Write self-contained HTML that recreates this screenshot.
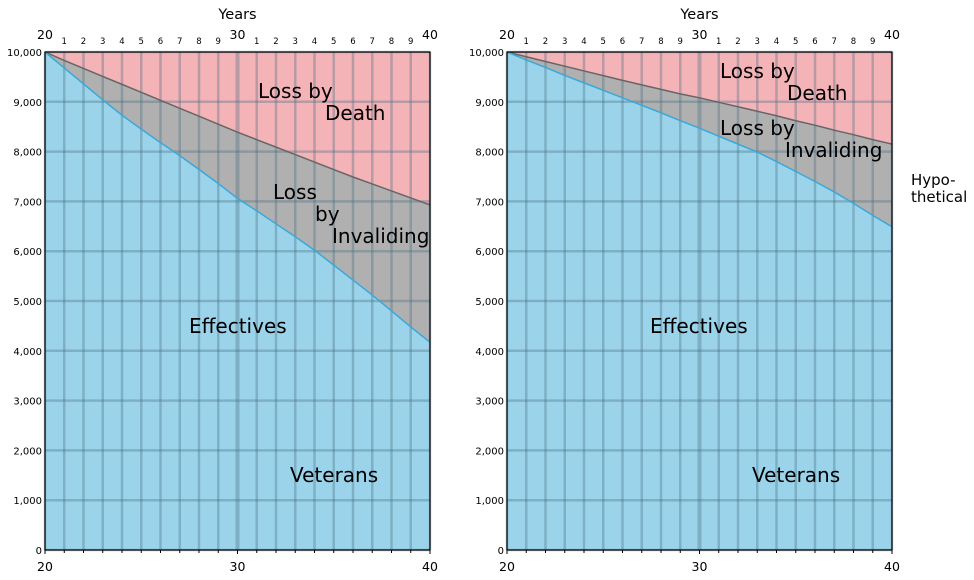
<!DOCTYPE html>
<html><head><meta charset="utf-8">
<style>
html,body{margin:0;padding:0;background:#fff;}
svg{display:block;font-family:"DejaVu Sans","Liberation Sans",sans-serif;}
</style></head>
<body>
<svg id="c" width="974" height="580"></svg>
<script>
const years = [20,21,22,23,24,25,26,27,28,29,30,31,32,33,34,35,36,37,38,39,40];
const leftDeath = [10000,9830,9670,9510,9350,9190,9030,8870,8710,8550,8390,8240,8090,7940,7790,7640,7490,7350,7210,7070,6930];
const leftEffective = [10000,9680,9360,9040,8730,8450,8180,7920,7640,7360,7060,6810,6550,6290,6020,5720,5420,5120,4800,4480,4170];
const rightDeath = [10000,9905,9810,9715,9620,9525,9430,9340,9250,9160,9080,8990,8900,8810,8720,8620,8530,8430,8340,8240,8150];
const rightEffective = [10000,9840,9690,9530,9380,9230,9080,8930,8780,8620,8470,8310,8150,7990,7800,7600,7400,7190,6960,6720,6490];
const yTicks = [0,1000,2000,3000,4000,5000,6000,7000,8000,9000,10000];
const yTickLabels = ["0","1,000","2,000","3,000","4,000","5,000","6,000","7,000","8,000","9,000","10,000"];
const topMinorLabels = ["1","2","3","4","5","6","7","8","9"];

const NS="http://www.w3.org/2000/svg";
const svg=document.getElementById('c');
function mk(tag,attrs,parent,text){const e=document.createElementNS(NS,tag);for(const k in attrs)e.setAttribute(k,attrs[k]);if(text!==undefined)e.textContent=text;(parent||svg).appendChild(e);return e;}

function chart(x0,name,death,eff,labels){
  const x1=x0+385, yTop=52, yBot=550;
  const X=v=>x0+(v-20)/20*(x1-x0);
  const Y=v=>yBot-v/10000*(yBot-yTop);
  const g=mk('g',{});
  
  
  const pts=(arr)=>arr.map((v,i)=>X(years[i])+','+Y(v)).join(' ');
  const pink=mk('rect',{x:x0,y:yTop,width:x1-x0,height:yBot-yTop,fill:'#f4b3b7'},g);
  
  const gray=mk('polygon',{points:pts(death)+' '+X(40)+','+yBot+' '+X(20)+','+yBot,fill:'#b0b0b0'},g);
  
  const blue=mk('polygon',{points:pts(eff)+' '+X(40)+','+yBot+' '+X(20)+','+yBot,fill:'#9bd4ea'},g);
  
  years.forEach(v=>{const l=mk('line',{x1:X(v),x2:X(v),y1:yTop,y2:yBot,stroke:'rgba(70,110,130,0.35)','stroke-width':v===30?4:2.5},g);
    });
  yTicks.forEach(v=>{const l=mk('line',{x1:x0,x2:x1,y1:Y(v),y2:Y(v),stroke:'rgba(70,110,130,0.35)','stroke-width':2.5},g);
    });
  const dl=mk('polyline',{points:pts(death),fill:'none',stroke:'#666','stroke-width':1.5},g);
  
  const el=mk('polyline',{points:pts(eff),fill:'none',stroke:'#3aa8d8','stroke-width':1.5},g);
  
  const fr=mk('rect',{x:x0,y:yTop,width:x1-x0,height:yBot-yTop,fill:'none',stroke:'#000','stroke-width':1.2},g);
  
  yTicks.forEach((v,i)=>{const t=mk('text',{x:x0-3,y:Y(v)+4,'font-size':10,'text-anchor':'end',fill:'#000'},g,yTickLabels[i]);
    });
  years.forEach(v=>{const tk=mk('line',{x1:X(v),x2:X(v),y1:yBot,y2:yBot+(v%10===0?4:3),stroke:'#000','stroke-width':1},g);
    });
  [20,30,40].forEach(v=>{const t=mk('text',{x:X(v),y:571,'font-size':12.5,'text-anchor':'middle'},g,String(v));
    
    const t2=mk('text',{x:X(v),y:39,'font-size':12.5,'text-anchor':'middle'},g,String(v));
    });
  years.forEach((v,i)=>{if(v%10===0)return;const t=mk('text',{x:X(v),y:44,'font-size':8.5,'text-anchor':'middle'},g,topMinorLabels[(v%10)-1]);
    });
  const yt=mk('text',{x:(x0+x1)/2,y:19,'font-size':14.5,'text-anchor':'middle'},g,'Years');
  
  labels.forEach(l=>{const t=mk('text',{x:l[0],y:l[1],'font-size':20},g,l[2]);
    });
}
chart(45,'left-chart',leftDeath,leftEffective,[[258,98,'Loss by'],[325,120,'Death'],[273,199,'Loss'],[315,221,'by'],[332,243,'Invaliding'],[189,333,'Effectives'],[290,482,'Veterans']]);
chart(507,'right-chart',rightDeath,rightEffective,[[720,78,'Loss by'],[787,100,'Death'],[720,135,'Loss by'],[785,157,'Invaliding'],[650,333,'Effectives'],[752,482,'Veterans']]);
const h1=mk('text',{x:911,y:185,'font-size':15},svg,'Hypo-');

const h2=mk('text',{x:911,y:202,'font-size':15},svg,'thetical');

</script>
</body></html>
